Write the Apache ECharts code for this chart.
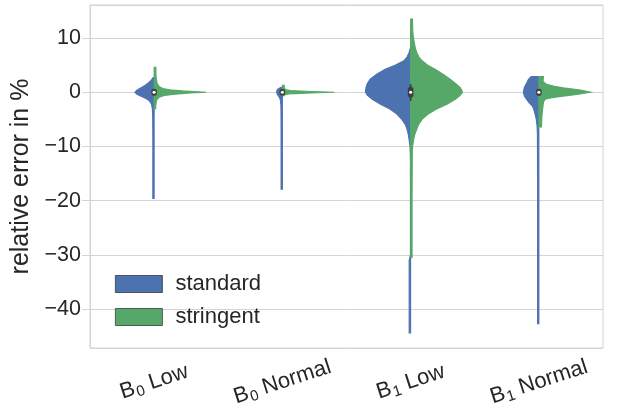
<!DOCTYPE html>
<html>
<head>
<meta charset="utf-8">
<script src="https://cdn.jsdelivr.net/npm/echarts@6/dist/echarts.min.js"></script>
<style>
  html, body { margin: 0; padding: 0; background: #fff; }
  #chart { width: 619px; height: 414px; }
</style>
</head>
<body>
<div id="chart"></div>
<script>
// Groups on the x axis
const categories = ['B0 Low', 'B0 Normal', 'B1 Low', 'B1 Normal'];
const seriesNames = ['standard', 'stringent'];
const yTicks = [-40, -30, -20, -10, 0, 10];

// Kernel density outlines: [relative error %, density (1 = widest half)]
const standardB0Low = [[2.7,0.02],[2.3,0.05],[1.8,0.1],[1.3,0.17],[0.8,0.26],[0.4,0.33],[0,0.37],[-0.4,0.33],[-0.8,0.24],[-1.2,0.15],[-1.6,0.09],[-2.2,0.05],[-3,0.035],[-4,0.028],[-8,0.025],[-19.6,0.025]];
const standardB0Normal = [[0.9,0.02],[0.7,0.07],[0.45,0.1],[0.15,0.11],[-0.2,0.105],[-0.5,0.09],[-0.8,0.07],[-1.2,0.045],[-1.7,0.035],[-2.5,0.028],[-6,0.025],[-17.9,0.025]];
const standardB1Low = [[8.2,0.005],[7.3,0.03],[6.5,0.07],[5.8,0.13],[5,0.3],[4.25,0.49],[3.3,0.66],[2.4,0.78],[1.5,0.84],[0.8,0.86],[0,0.87],[-0.6,0.83],[-1.3,0.74],[-2.2,0.58],[-3.1,0.4],[-4,0.27],[-5,0.17],[-6,0.1],[-6.8,0.07],[-7.8,0.045],[-8.7,0.03],[-10,0.012],[-12,0.004],[-30,0.004],[-31,0.028],[-44.4,0.028]];
const standardB1Normal = [[2.9,0.15],[2.4,0.2],[1.8,0.23],[0.9,0.28],[0,0.3],[-0.7,0.28],[-1.3,0.24],[-1.9,0.19],[-2.5,0.13],[-3.1,0.1],[-3.75,0.08],[-5,0.05],[-6.2,0.035],[-8,0.028],[-20,0.025],[-42.7,0.025]];

const stringentB0Low = [[4.6,0.035],[3.5,0.035],[2.5,0.04],[1.6,0.06],[1.0,0.1],[0.7,0.17],[0.45,0.3],[0.25,0.55],[0.1,0.85],[0,1.0],[-0.15,0.7],[-0.35,0.4],[-0.6,0.2],[-0.9,0.1],[-1.4,0.05],[-2.2,0.035],[-3.1,0.03]];
const stringentB0Normal = [[1.3,0.035],[0.9,0.035],[0.5,0.06],[0.3,0.15],[0.15,0.55],[0,1.0],[-0.15,0.55],[-0.3,0.12],[-0.5,0.04],[-0.7,0.025]];
const stringentB1Low = [[13.5,0.035],[11.6,0.04],[10.3,0.05],[9.2,0.07],[8.2,0.09],[7.3,0.12],[6.5,0.16],[5.8,0.22],[5,0.33],[4.25,0.47],[3.3,0.63],[2.4,0.76],[1.5,0.88],[0.8,0.96],[0,1.0],[-0.6,0.95],[-1.3,0.86],[-2.2,0.7],[-3.1,0.5],[-4,0.34],[-5,0.22],[-6,0.15],[-6.8,0.12],[-7.8,0.08],[-8.7,0.06],[-9.9,0.04],[-11,0.032],[-20,0.028],[-30.5,0.028]];
const stringentB1Normal = [[2.9,0.09],[2.1,0.08],[1.7,0.11],[1.4,0.17],[1.1,0.3],[0.8,0.47],[0.4,0.8],[0,1.0],[-0.43,0.73],[-0.86,0.35],[-1.1,0.2],[-1.3,0.12],[-1.8,0.09],[-2.5,0.08],[-4.3,0.06],[-6.4,0.05]];

// Box summary of both groups together: [lower whisker, q1, median, q3, upper whisker]
const boxStats = [
  [-0.5, -0.15, 0, 0.15, 0.6],
  [-0.3, -0.08, 0, 0.08, 0.3],
  [-1.6, -0.45, 0, 0.5, 1.5],
  [-0.6, -0.15, 0, 0.15, 0.6]
];

const standardProfiles = [standardB0Low, standardB0Normal, standardB1Low, standardB1Normal];
const stringentProfiles = [stringentB0Low, stringentB0Normal, stringentB1Low, stringentB1Normal];

const BLUE = '#4C72B0';
const GREEN = '#55A868';
const TEXT = '#262626';
const GRIDC = '#d4d4d4';
const FONT = '"Liberation Sans", Arial, sans-serif';

function halfViolin(profiles, side, color) {
  return function (params, api) {
    const idx = api.value(0);
    const prof = profiles[idx];
    const cx = api.coord([idx, 0])[0];
    const halfMax = api.size([1, 0])[0] * 0.405;
    const pts = prof.map(function (p) {
      return [cx + side * p[1] * halfMax, api.coord([idx, p[0]])[1]];
    });
    pts.push([cx, api.coord([idx, prof[prof.length - 1][0]])[1]]);
    pts.push([cx, api.coord([idx, prof[0][0]])[1]]);
    return {
      type: 'polygon',
      shape: { points: pts },
      style: { fill: color, stroke: color, lineWidth: 1.1 }
    };
  };
}

function boxItem(params, api) {
  const idx = api.value(0);
  const s = boxStats[idx];
  const cx = api.coord([idx, 0])[0];
  const yLo = api.coord([idx, s[0]])[1];
  const yQ1 = api.coord([idx, s[1]])[1];
  const yMed = api.coord([idx, s[2]])[1];
  const yQ3 = api.coord([idx, s[3]])[1];
  const yHi = api.coord([idx, s[4]])[1];
  const bw = 5.6;
  return {
    type: 'group',
    children: [
      { type: 'line', shape: { x1: cx, y1: yLo, x2: cx, y2: yHi },
        style: { stroke: '#3d3d3d', lineWidth: 1.6 } },
      { type: 'rect', shape: { x: cx - bw / 2, y: yQ3 - bw / 2, width: bw, height: (yQ1 - yQ3) + bw, r: bw / 2 },
        style: { fill: '#3d3d3d' } },
      { type: 'circle', shape: { cx: cx, cy: yMed, r: 1.6 },
        style: { fill: '#ffffff' } }
    ]
  };
}

const itemData = categories.map(function (c, i) { return [i, 0]; });

const chart = echarts.init(document.getElementById('chart'), null, { renderer: 'canvas' });
chart.setOption({
  animation: false,
  backgroundColor: '#ffffff',
  textStyle: { fontFamily: FONT, color: TEXT },
  grid: { left: 90, right: 16, top: 5, bottom: 66, show: true, borderColor: GRIDC, borderWidth: 1 },
  legend: {
    data: seriesNames,
    left: 110, top: 268,
    orient: 'vertical',
    icon: 'rect',
    itemWidth: 47, itemHeight: 17, itemGap: 11,
    itemStyle: { borderColor: '#3a3a3a', borderWidth: 0.8 },
    textStyle: { fontSize: 22, color: TEXT, fontFamily: FONT, padding: [0, 0, 0, 8] }
  },
  xAxis: {
    type: 'category',
    data: categories,
    axisLine: { show: false },
    axisTick: { show: false },
    splitLine: { show: false },
    axisLabel: {
      rotate: 18,
      align: 'center',
      verticalAlign: 'middle',
      margin: 34,
      formatter: function (v) {
        const m = v.match(/^B(\d)(.*)$/);
        return '{m|B}{s|' + m[1] + '}{m|' + m[2] + '}';
      },
      rich: {
        m: { fontSize: 22, color: TEXT, fontFamily: FONT },
        s: { fontSize: 15, color: TEXT, fontFamily: FONT, padding: [10, 0, 0, 1] }
      }
    }
  },
  yAxis: {
    type: 'value',
    min: -47.2, max: 16.1,
    minInterval: 10, maxInterval: 10,
    name: 'relative error in %',
    nameLocation: 'middle',
    nameGap: 50,
    nameTextStyle: { fontSize: 25, color: TEXT, fontFamily: FONT },
    axisLine: { show: true, lineStyle: { color: GRIDC } },
    axisTick: { show: true, length: 8, lineStyle: { color: GRIDC } },
    splitLine: { show: true, lineStyle: { color: GRIDC, width: 1 } },
    axisLabel: {
      showMinLabel: false, showMaxLabel: false,
      fontSize: 21.5, color: TEXT, fontFamily: FONT, margin: 9,
      formatter: function (v) {
        return yTicks.indexOf(v) >= 0 ? String(v).replace('-', '\u2212') : '';
      }
    }
  },
  series: [
    { name: 'standard', type: 'custom', itemStyle: { color: BLUE },
      renderItem: halfViolin(standardProfiles, -1, BLUE), data: itemData, z: 2 },
    { name: 'stringent', type: 'custom', itemStyle: { color: GREEN },
      renderItem: halfViolin(stringentProfiles, 1, GREEN), data: itemData, z: 3 },
    { name: 'box', type: 'custom', renderItem: boxItem, data: itemData, z: 4 }
  ]
});
</script>
</body>
</html>
